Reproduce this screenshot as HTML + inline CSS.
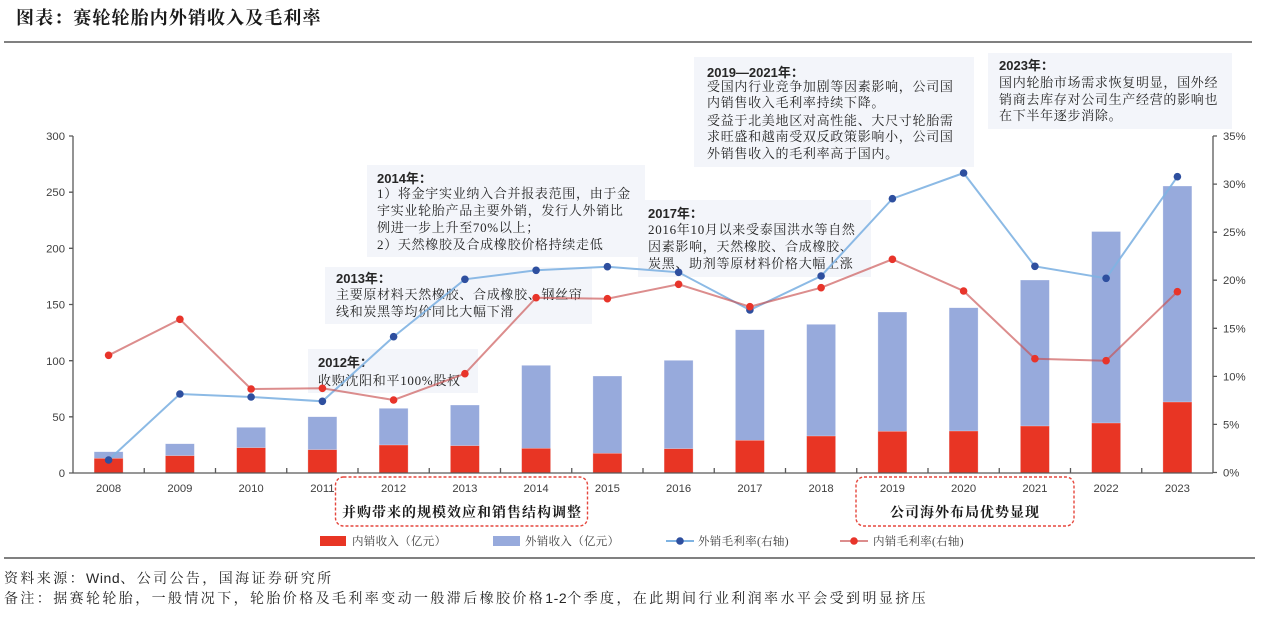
<!DOCTYPE html>
<html><head><meta charset="utf-8"><style>
html,body{margin:0;padding:0;background:#fff;}
svg{display:block;}
.cj{font-family:"Liberation Serif","Noto Serif CJK SC",serif;}
.hd{font-family:"Liberation Sans","Noto Sans CJK SC",sans-serif;font-weight:bold;}
.ax{font-family:"Liberation Sans",sans-serif;font-size:11.3px;fill:#404040;}
</style></head><body>
<svg width="1269" height="618" viewBox="0 0 1269 618" xmlns="http://www.w3.org/2000/svg">
<text x="16" y="24" class="cj" font-size="18" font-weight="bold" letter-spacing="1.1" fill="#1a1a1a">图表：赛轮轮胎内外销收入及毛利率</text>
<line x1="4" y1="42" x2="1252" y2="42" stroke="#808080" stroke-width="2"/>

<!-- annotation boxes -->
<g fill="#f3f5fa">
<rect x="308" y="349" width="170" height="44"/>
<rect x="325" y="267" width="267" height="57"/>
<rect x="367" y="165" width="278" height="92"/>
<rect x="638" y="200" width="233" height="77"/>
<rect x="694" y="57" width="280" height="110"/>
<rect x="988" y="53" width="244" height="76"/>
</g>
<g fill="#262626">
<text x="318" y="367" class="hd" font-size="13">2012年：</text>
<text x="318" y="385" class="cj" font-size="13" letter-spacing="0.7">收购沈阳和平100%股权</text>

<text x="336" y="283" class="hd" font-size="13">2013年：</text>
<text x="336" y="299" class="cj" font-size="13" letter-spacing="0.7">主要原材料天然橡胶、合成橡胶、钢丝帘</text>
<text x="336" y="316" class="cj" font-size="13" letter-spacing="0.7">线和炭黑等均价同比大幅下滑</text>

<text x="377" y="183" class="hd" font-size="13">2014年：</text>
<text x="377" y="198" class="cj" font-size="13" letter-spacing="0.7">1）将金宇实业纳入合并报表范围，由于金</text>
<text x="377" y="215" class="cj" font-size="13" letter-spacing="0.7">宇实业轮胎产品主要外销，发行人外销比</text>
<text x="377" y="232" class="cj" font-size="13" letter-spacing="0.7">例进一步上升至70%以上；</text>
<text x="377" y="249" class="cj" font-size="13" letter-spacing="0.7">2）天然橡胶及合成橡胶价格持续走低</text>

<text x="648" y="218" class="hd" font-size="13">2017年：</text>
<text x="648" y="234" class="cj" font-size="13" letter-spacing="0.7">2016年10月以来受泰国洪水等自然</text>
<text x="648" y="251" class="cj" font-size="13" letter-spacing="0.7">因素影响，天然橡胶、合成橡胶、</text>
<text x="648" y="268" class="cj" font-size="13" letter-spacing="0.7">炭黑、助剂等原材料价格大幅上涨</text>

<text x="707" y="77" class="hd" font-size="13">2019—2021年：</text>
<text x="707" y="91" class="cj" font-size="13" letter-spacing="0.7">受国内行业竞争加剧等因素影响，公司国</text>
<text x="707" y="107" class="cj" font-size="13" letter-spacing="0.7">内销售收入毛利率持续下降。</text>
<text x="707" y="125" class="cj" font-size="13" letter-spacing="0.7">受益于北美地区对高性能、大尺寸轮胎需</text>
<text x="707" y="141" class="cj" font-size="13" letter-spacing="0.7">求旺盛和越南受双反政策影响小，公司国</text>
<text x="707" y="158" class="cj" font-size="13" letter-spacing="0.7">外销售收入的毛利率高于国内。</text>

<text x="999" y="70" class="hd" font-size="13">2023年：</text>
<text x="999" y="87" class="cj" font-size="13" letter-spacing="0.7">国内轮胎市场需求恢复明显，国外经</text>
<text x="999" y="104" class="cj" font-size="13" letter-spacing="0.7">销商去库存对公司生产经营的影响也</text>
<text x="999" y="120" class="cj" font-size="13" letter-spacing="0.7">在下半年逐步消除。</text>
</g>

<!-- bars -->
<g stroke="#ffffff" stroke-opacity="0.5" stroke-width="0.6">
<g fill="#97aadc">
<rect x="94.1" y="451.7" width="29" height="21.3"/>
<rect x="165.4" y="443.7" width="29" height="29.3"/>
<rect x="236.6" y="427.3" width="29" height="45.7"/>
<rect x="307.9" y="416.7" width="29" height="56.3"/>
<rect x="379.1" y="408.3" width="29" height="64.7"/>
<rect x="450.4" y="405" width="29" height="68"/>
<rect x="521.6" y="365.3" width="29" height="107.7"/>
<rect x="592.9" y="376" width="29" height="97"/>
<rect x="664.1" y="360.3" width="29" height="112.7"/>
<rect x="735.4" y="329.7" width="29" height="143.3"/>
<rect x="806.6" y="324.3" width="29" height="148.7"/>
<rect x="877.9" y="312" width="29" height="161"/>
<rect x="949.1" y="307.7" width="29" height="165.3"/>
<rect x="1020.4" y="280" width="29" height="193"/>
<rect x="1091.6" y="231.5" width="29" height="241.5"/>
<rect x="1162.9" y="186" width="29" height="287"/>
</g>
<g fill="#e83524">
<rect x="94.1" y="458.3" width="29" height="14.7"/>
<rect x="165.4" y="455.7" width="29" height="17.3"/>
<rect x="236.6" y="447.7" width="29" height="25.3"/>
<rect x="307.9" y="449.7" width="29" height="23.3"/>
<rect x="379.1" y="445" width="29" height="28"/>
<rect x="450.4" y="445.7" width="29" height="27.3"/>
<rect x="521.6" y="448.3" width="29" height="24.7"/>
<rect x="592.9" y="453.3" width="29" height="19.7"/>
<rect x="664.1" y="448.7" width="29" height="24.3"/>
<rect x="735.4" y="440.3" width="29" height="32.7"/>
<rect x="806.6" y="436" width="29" height="37"/>
<rect x="877.9" y="431.3" width="29" height="41.7"/>
<rect x="949.1" y="431" width="29" height="42"/>
<rect x="1020.4" y="426" width="29" height="47"/>
<rect x="1091.6" y="423" width="29" height="50"/>
<rect x="1162.9" y="402" width="29" height="71"/>
</g>
</g>

<!-- axes -->
<g stroke="#595959" stroke-width="1.3" fill="none">
<line x1="73" y1="136" x2="73" y2="473"/>
<line x1="1213" y1="136" x2="1213" y2="473"/>
<line x1="73" y1="473" x2="1213" y2="473"/>
<path d="M69 473H73M69 416.8H73M69 360.7H73M69 304.5H73M69 248.3H73M69 192.2H73M69 136H73"/>
<path d="M1213 472.5H1217M1213 424.4H1217M1213 376.4H1217M1213 328.3H1217M1213 280.2H1217M1213 232.2H1217M1213 184.1H1217M1213 136H1217"/>
<path d="M144.25 468V473M215.5 468V473M286.75 468V473M358 468V473M429.25 468V473M500.5 468V473M571.75 468V473M643 468V473M714.25 468V473M785.5 468V473M856.75 468V473M928 468V473M999.25 468V473M1070.5 468V473M1141.75 468V473"/>
</g>
<g class="ax" text-anchor="end">
<text x="65" y="477">0</text>
<text x="65" y="421">50</text>
<text x="65" y="365">100</text>
<text x="65" y="308.5">150</text>
<text x="65" y="252.5">200</text>
<text x="65" y="196">250</text>
<text x="65" y="140">300</text>
</g>
<g class="ax">
<text x="1223" y="476.5">0%</text>
<text x="1223" y="428.5">5%</text>
<text x="1223" y="380.5">10%</text>
<text x="1223" y="332.5">15%</text>
<text x="1223" y="284">20%</text>
<text x="1223" y="236">25%</text>
<text x="1223" y="188">30%</text>
<text x="1223" y="140">35%</text>
</g>
<g class="ax" text-anchor="middle" font-size="11">
<text x="108.6" y="492">2008</text>
<text x="179.9" y="492">2009</text>
<text x="251.1" y="492">2010</text>
<text x="322.4" y="492">2011</text>
<text x="393.6" y="492">2012</text>
<text x="464.9" y="492">2013</text>
<text x="536.1" y="492">2014</text>
<text x="607.4" y="492">2015</text>
<text x="678.6" y="492">2016</text>
<text x="749.9" y="492">2017</text>
<text x="821.1" y="492">2018</text>
<text x="892.4" y="492">2019</text>
<text x="963.6" y="492">2020</text>
<text x="1034.9" y="492">2021</text>
<text x="1106.1" y="492">2022</text>
<text x="1177.4" y="492">2023</text>
</g>

<!-- lines -->
<polyline fill="none" stroke="#7fb3e2" stroke-width="2" stroke-opacity="0.9" points="108.6,460 179.9,394 251.1,397 322.4,401.3 393.6,336.7 464.9,279.3 536.1,270.3 607.4,266.7 678.6,272.3 749.9,310 821.1,276 892.4,198.7 963.6,173 1034.9,266.3 1106.1,278.3 1177.4,176.7"/>
<g fill="#2e4f9f">
<circle cx="108.6" cy="460" r="3.8"/><circle cx="179.9" cy="394" r="3.8"/><circle cx="251.1" cy="397" r="3.8"/><circle cx="322.4" cy="401.3" r="3.8"/><circle cx="393.6" cy="336.7" r="3.8"/><circle cx="464.9" cy="279.3" r="3.8"/><circle cx="536.1" cy="270.3" r="3.8"/><circle cx="607.4" cy="266.7" r="3.8"/><circle cx="678.6" cy="272.3" r="3.8"/><circle cx="749.9" cy="310" r="3.8"/><circle cx="821.1" cy="276" r="3.8"/><circle cx="892.4" cy="198.7" r="3.8"/><circle cx="963.6" cy="173" r="3.8"/><circle cx="1034.9" cy="266.3" r="3.8"/><circle cx="1106.1" cy="278.3" r="3.8"/><circle cx="1177.4" cy="176.7" r="3.8"/>
</g>
<polyline fill="none" stroke="#c95050" stroke-width="2" stroke-opacity="0.65" points="108.6,355.3 179.9,319.3 251.1,389 322.4,388.3 393.6,400 464.9,373.7 536.1,297.7 607.4,298.7 678.6,284.3 749.9,306.7 821.1,287.7 892.4,259.3 963.6,291 1034.9,358.7 1106.1,360.7 1177.4,291.7"/>
<g fill="#e8342a">
<circle cx="108.6" cy="355.3" r="3.8"/><circle cx="179.9" cy="319.3" r="3.8"/><circle cx="251.1" cy="389" r="3.8"/><circle cx="322.4" cy="388.3" r="3.8"/><circle cx="393.6" cy="400" r="3.8"/><circle cx="464.9" cy="373.7" r="3.8"/><circle cx="536.1" cy="297.7" r="3.8"/><circle cx="607.4" cy="298.7" r="3.8"/><circle cx="678.6" cy="284.3" r="3.8"/><circle cx="749.9" cy="306.7" r="3.8"/><circle cx="821.1" cy="287.7" r="3.8"/><circle cx="892.4" cy="259.3" r="3.8"/><circle cx="963.6" cy="291" r="3.8"/><circle cx="1034.9" cy="358.7" r="3.8"/><circle cx="1106.1" cy="360.7" r="3.8"/><circle cx="1177.4" cy="291.7" r="3.8"/>
</g>

<!-- dashed boxes -->
<g fill="none" stroke="#e5473d" stroke-width="1.4" stroke-dasharray="3,2">
<rect x="335.5" y="477" width="252" height="49" rx="8"/>
<rect x="856" y="477" width="218" height="49" rx="8"/>
</g>
<g class="cj" font-size="14" font-weight="bold" fill="#1a1a1a" text-anchor="middle" letter-spacing="1">
<text x="462" y="517">并购带来的规模效应和销售结构调整</text>
<text x="965" y="517">公司海外布局优势显现</text>
</g>

<!-- legend -->
<rect x="320" y="536" width="26" height="10" fill="#e83524"/>
<rect x="493" y="536" width="27" height="10" fill="#97aadc"/>
<line x1="666" y1="541" x2="694" y2="541" stroke="#7fb3e2" stroke-width="2"/>
<circle cx="680" cy="541" r="3.8" fill="#2e4f9f"/>
<line x1="840" y1="541" x2="868" y2="541" stroke="#c95050" stroke-opacity="0.65" stroke-width="2"/>
<circle cx="854" cy="541" r="3.8" fill="#e8342a"/>
<g class="cj" font-size="11.5" fill="#404040" letter-spacing="0.3">
<text x="352" y="545">内销收入（亿元）</text>
<text x="525" y="545">外销收入（亿元）</text>
<text x="698" y="545">外销毛利率(右轴)</text>
<text x="873" y="545">内销毛利率(右轴)</text>
</g>

<line x1="4" y1="558" x2="1255" y2="558" stroke="#808080" stroke-width="2"/>
<g class="cj" font-size="14" fill="#262626" letter-spacing="2.4">
<text x="4" y="583">资料来源：<tspan font-family="Liberation Sans, sans-serif" letter-spacing="0.6">Wind</tspan>、公司公告，国海证券研究所</text>
<text x="4" y="603">备注：据赛轮轮胎，一般情况下，轮胎价格及毛利率变动一般滞后橡胶价格<tspan font-family="Liberation Sans, sans-serif" letter-spacing="0.6">1-2</tspan>个季度，在此期间行业利润率水平会受到明显挤压</text>
</g>
</svg>
</body></html>
